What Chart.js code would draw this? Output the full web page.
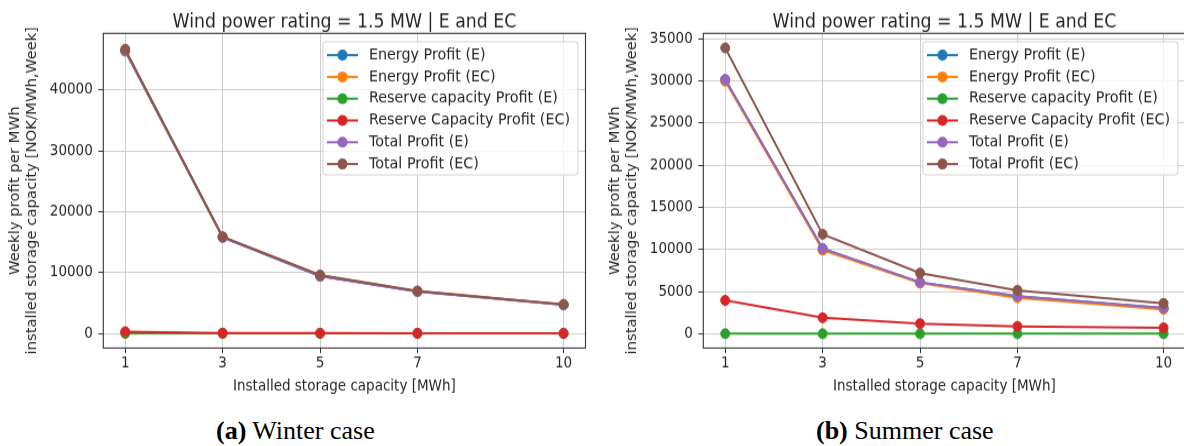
<!DOCTYPE html>
<html>
<head>
<meta charset="utf-8">
<script src="https://cdn.jsdelivr.net/npm/chart.js@4.4.1/dist/chart.umd.min.js"></script>
<style>
  html, body { margin: 0; padding: 0; background: #fff; }
  body { width: 1184px; height: 446px; overflow: hidden; position: relative; }
  .panel { position: absolute; top: 0; width: 600px; height: 364px; transform: scale(1, 1.1); transform-origin: 0 0; }
  .panel canvas { display: block; }
  .caption { position: absolute; font-family: "Liberation Serif", "Times New Roman", serif; font-size: 26px; line-height: 26px; color: #000; white-space: nowrap; }
</style>
</head>
<body>
<div class="panel" style="left:0"><canvas id="winter" width="600" height="364"></canvas></div>
<div class="panel" style="left:600px"><canvas id="summer" width="600" height="364"></canvas></div>
<div class="caption" style="left:216px;top:418px"><b>(a)</b> Winter case</div>
<div class="caption" style="left:816px;top:418px"><b>(b)</b> Summer case</div>

<script>
const capacities = [1, 3, 5, 7, 10];
const xTickLabels = ["1", "3", "5", "7", "10"];
const seriesNames = [
  "Energy Profit (E)",
  "Energy Profit (EC)",
  "Reserve capacity Profit (E)",
  "Reserve Capacity Profit (EC)",
  "Total Profit (E)",
  "Total Profit (EC)",
];
const seriesColors = ["#1f77b4", "#ff7f0e", "#2ca02c", "#d62728", "#9467bd", "#8c564b"];

// winter case
const winterEnergyE = [46400, 15800, 9400, 6900, 4700];
const winterEnergyEC = [46420, 15810, 9550, 6940, 4750];
const winterReserveE = [0, 0, 0, 0, 0];
const winterReserveEC = [280, 70, 50, 40, 30];
const winterTotalE = [46400, 15800, 9400, 6900, 4700];
const winterTotalEC = [46700, 15880, 9600, 6980, 4780];
const winterYTicks = [0, 10000, 20000, 30000, 40000];

// summer case
const summerEnergyE = [30150, 10100, 6100, 4450, 3050];
const summerEnergyEC = [29950, 9900, 6000, 4270, 2900];
const summerReserveE = [0, 0, 0, 0, 0];
const summerReserveEC = [3950, 1900, 1200, 880, 700];
const summerTotalE = [30150, 10100, 6100, 4450, 3050];
const summerTotalEC = [33900, 11800, 7200, 5150, 3600];
const summerYTicks = [0, 5000, 10000, 15000, 20000, 25000, 30000, 35000];

const titleText = "Wind power rating = 1.5 MW | E and EC";
const xTitle = "Installed storage capacity [MWh]";
const yTitle = ["Weekly profit per MWh", "installed storage capacity [NOK/MWh,Week]"];

const FONT = '"DejaVu Sans", sans-serif';
const TEXT = "#262626";

// axes frame and a matplotlib-like legend box
const frameAndLegend = {
  id: "frameAndLegend",
  afterDraw(chart) {
    const { ctx, chartArea: a } = chart;
    ctx.save();
    ctx.strokeStyle = "#333";
    ctx.lineWidth = 1.1;
    ctx.strokeRect(a.left, a.top, a.right - a.left, a.bottom - a.top);

    ctx.font = "14.3px " + FONT;
    const sets = chart.data.datasets;
    const textW = Math.max(...sets.map((d) => ctx.measureText(d.label).width));
    const w = 46 + textW + 8;
    const right = a.right - 7.5;
    const left = right - w;
    const top = a.top + 7.6;
    const rowH = 19.8;
    const h = 12.2 + rowH * (sets.length - 1) + 9.9;

    const r = 3;
    ctx.beginPath();
    ctx.moveTo(left + r, top);
    ctx.lineTo(right - r, top);
    ctx.quadraticCurveTo(right, top, right, top + r);
    ctx.lineTo(right, top + h - r);
    ctx.quadraticCurveTo(right, top + h, right - r, top + h);
    ctx.lineTo(left + r, top + h);
    ctx.quadraticCurveTo(left, top + h, left, top + h - r);
    ctx.lineTo(left, top + r);
    ctx.quadraticCurveTo(left, top, left + r, top);
    ctx.closePath();
    ctx.fillStyle = "rgba(255,255,255,0.8)";
    ctx.fill();
    ctx.strokeStyle = "#d4d4d4";
    ctx.lineWidth = 1;
    ctx.stroke();

    sets.forEach((d, i) => {
      const y = top + 12.2 + i * rowH;
      ctx.strokeStyle = d.borderColor;
      ctx.lineWidth = 2;
      ctx.beginPath();
      ctx.moveTo(left + 4, y);
      ctx.lineTo(left + 35, y);
      ctx.stroke();
      ctx.fillStyle = d.borderColor;
      ctx.beginPath();
      ctx.arc(left + 19.5, y, 5, 0, Math.PI * 2);
      ctx.fill();
      ctx.fillStyle = TEXT;
      ctx.textBaseline = "middle";
      ctx.textAlign = "left";
      ctx.fillText(d.label, left + 46, y);
    });
    ctx.restore();
  },
};

function makeChart(id, series, yTicks, yMin, yMax) {
  const datasets = series.map((values, i) => ({
    label: seriesNames[i],
    data: capacities.map((c, j) => ({ x: c, y: values[j] })),
    borderColor: seriesColors[i],
    backgroundColor: seriesColors[i],
    pointBackgroundColor: seriesColors[i],
    pointBorderColor: seriesColors[i],
    borderWidth: 2,
    pointRadius: 4.5,
    pointBorderWidth: 1,
    tension: 0,
    order: series.length - 1 - i,
  }));

  return new Chart(document.getElementById(id), {
    type: "line",
    data: { datasets },
    options: {
      responsive: false,
      animation: false,
      events: [],
      layout: { padding: { left: 0, right: 14.5, top: 0, bottom: 0 } },
      plugins: {
        legend: { display: false },
        tooltip: { enabled: false },
        title: {
          display: true,
          text: titleText,
          fullSize: false,
          color: TEXT,
          font: { family: FONT, size: 17.3, weight: "normal", lineHeight: 1.1 },
          padding: { top: 11, bottom: 0.27 },
        },
      },
      scales: {
        x: {
          type: "linear",
          min: 0.55,
          max: 10.45,
          afterBuildTicks: (s) => {
            s.ticks = capacities.map((v) => ({ value: v }));
          },
          afterFit: (s) => {
            s.height = 47.6;
          },
          ticks: {
            callback: (v, i) => xTickLabels[i],
            color: TEXT,
            font: { family: FONT, size: 13.5 },
            padding: 1.2,
            maxRotation: 0,
            autoSkip: false,
          },
          grid: { color: "#cdcdcd", lineWidth: 1, tickColor: "#333", tickLength: 4.5 },
          border: { display: false },
          title: {
            display: true,
            text: xTitle,
            color: TEXT,
            font: { family: FONT, size: 13.5, lineHeight: 1.2 },
            padding: { top: 0, bottom: 4.6 },
          },
        },
        y: {
          min: yMin,
          max: yMax,
          afterBuildTicks: (s) => {
            s.ticks = yTicks.map((v) => ({ value: v }));
          },
          afterFit: (s) => {
            s.width = 103.3;
          },
          ticks: {
            callback: (v) => String(v),
            color: TEXT,
            font: { family: FONT, size: 13.5 },
            padding: 5.5,
            autoSkip: false,
          },
          grid: { color: "#cdcdcd", lineWidth: 1, tickColor: "#333", tickLength: 5 },
          border: { display: false },
          title: {
            display: true,
            text: yTitle,
            color: TEXT,
            font: { family: FONT, size: 13.5, lineHeight: 1.25 },
            padding: { top: 7, bottom: 0 },
          },
        },
      },
    },
    plugins: [frameAndLegend],
  });
}

makeChart(
  "winter",
  [winterEnergyE, winterEnergyEC, winterReserveE, winterReserveEC, winterTotalE, winterTotalEC],
  winterYTicks,
  -2400,
  49300
);
makeChart(
  "summer",
  [summerEnergyE, summerEnergyEC, summerReserveE, summerReserveEC, summerTotalE, summerTotalEC],
  summerYTicks,
  -1700,
  35630
);
</script>
</body>
</html>
